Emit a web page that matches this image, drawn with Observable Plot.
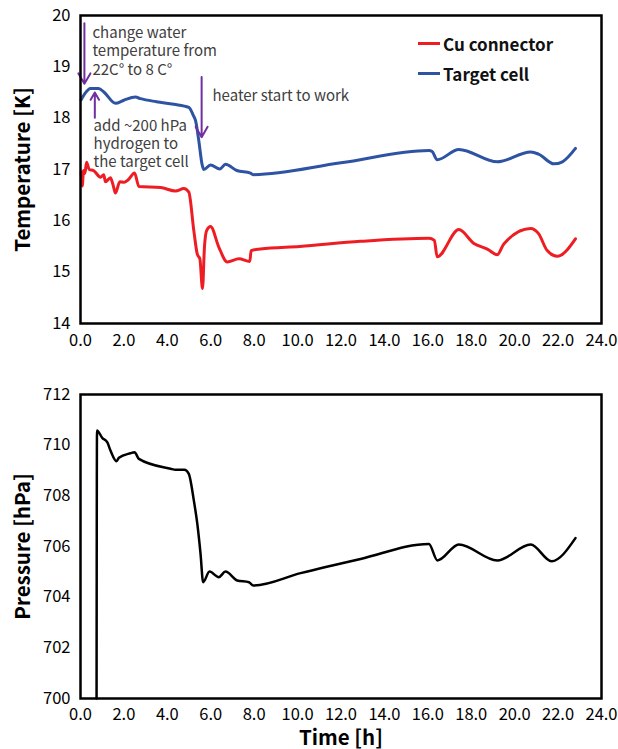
<!DOCTYPE html>
<html>
<head>
<meta charset="utf-8">
<script src="https://cdn.jsdelivr.net/npm/d3@7"></script>
<script src="https://cdn.jsdelivr.net/npm/@observablehq/plot@0.6"></script>
<style>
  body { margin: 0; background: white; }
  #wrap { position: relative; width: 618px; }
  #wrap svg { display: block; }
  [aria-label="y-axis label"] text, [aria-label="x-axis label"] text { font-weight: bold; font-size: 20.5px; }
  .leg { position: absolute; font-family: "Noto Sans CJK SC", sans-serif; font-size: 17px; font-weight: 600; color: #111; display: flex; align-items: center; }
  .leg span.sw { display: inline-block; width: 22px; height: 3px; margin-right: 3px; }
</style>
</head>
<body>
<div id="wrap"></div>
<script>
// ---- data ----
const cuTime = [0.03,0.08,0.14,0.2,0.28,0.4,0.6,0.92,1.07,1.15,1.38,1.5,1.61,1.81,2.0,2.2,2.49,2.69,3.69,4.38,4.76,4.99,5.22,5.38,5.5,5.62,5.71,5.81,5.99,6.37,6.76,7.3,7.8,7.86,8.29,10.1,12.9,16.05,16.3,16.43,17.43,18.12,18.74,19.2,19.5,20.74,21.1,21.5,21.96,22.8];
const cuTemp = [16.95,16.68,16.98,16.92,17.14,17.0,16.98,16.85,16.9,16.76,16.84,16.7,16.54,16.76,16.75,16.8,16.93,16.67,16.65,16.58,16.63,16.56,15.81,15.35,15.26,14.68,15.49,15.81,15.89,15.49,15.2,15.26,15.21,15.42,15.45,15.5,15.6,15.66,15.62,15.3,15.83,15.56,15.45,15.34,15.55,15.85,15.75,15.42,15.31,15.65];
const cellTime = [0.03,0.2,0.46,0.83,1.1,1.61,2.0,2.53,2.76,3.5,4.3,4.99,5.2,5.3,5.45,5.6,5.68,5.99,6.42,6.68,7.2,7.83,7.95,12.0,16.05,16.2,16.43,17.43,19.2,20.74,21.1,21.81,22.2,22.8];
const cellTemp = [18.36,18.48,18.58,18.58,18.5,18.29,18.35,18.41,18.38,18.32,18.27,18.21,18.05,17.95,17.56,17.1,17.0,17.09,17.01,17.1,16.98,16.93,16.9,17.13,17.37,17.35,17.19,17.39,17.15,17.34,17.3,17.11,17.15,17.41];
const pTime = [0.74,0.76,1.0,1.23,1.38,1.66,1.77,2.3,2.49,2.69,4.15,4.38,4.79,4.99,5.22,5.38,5.53,5.65,5.94,6.37,6.68,7.22,7.76,7.96,10.14,12.9,16.05,16.44,17.43,19.2,20.74,21.7,22.8];
const pressure = [700,710.58,710.29,710.12,709.79,709.37,709.5,709.68,709.72,709.46,709.07,709.03,709.03,708.87,707.82,706.9,705.71,704.59,705.01,704.79,705.01,704.66,704.59,704.46,704.95,705.51,706.1,705.45,706.08,705.45,706.08,705.42,706.33];
const seriesNames = ["Cu connector", "Target cell"];
const xTicks = [0,2,4,6,8,10,12,14,16,18,20,22,24];
const tempTicks = [14,15,16,17,18,19,20];
const pTicks = [700,702,704,706,708,710,712];
// annotations (time [h], temperature [K])
const arrowT = [0.18, 0.66, 5.58];
const arrowFrom = [19.85, 18.01, 18.8];
const arrowTo = [18.67, 18.5, 17.63];
const noteT = [0.55, 0.6, 6.08];
const noteY = [19.32, 17.51, 18.44];
const noteText = ["change water\ntemperature from\n22C° to 8 C°", "add ~200 hPa\nhydrogen to\nthe target cell", "heater start to work"];

// ---- build ----
const font = "'Noto Sans CJK SC', 'Noto Sans', sans-serif";
const red = "#ee1d23", blue = "#2e53a3", purple = "#7030a0";
const cu = cuTime.map((t, i) => ({t, v: cuTemp[i]}));
const cell = cellTime.map((t, i) => ({t, v: cellTemp[i]}));
const pr = pTime.map((t, i) => ({t, v: pressure[i]}));
const arrows = arrowT.map((t, i) => ({t, a: arrowFrom[i], b: arrowTo[i]}));
const notes = noteT.map((t, i) => ({t, y: noteY[i], s: noteText[i]}));
const fmt = d3.format(".1f");
const intFmt = d3.format("d");

const tempChart = Plot.plot({
  width: 618, height: 355,
  marginLeft: 80, marginRight: 17, marginTop: 15, marginBottom: 32,
  style: {fontFamily: font, fontSize: "16.5px", color: "#000", background: "white"},
  x: {domain: [0, 24]},
  y: {domain: [14, 20]},
  marks: [
    Plot.axisX({ticks: xTicks, tickFormat: fmt, tickSize: 0, tickPadding: 11, label: null}),
    Plot.axisY({ticks: tempTicks, tickFormat: intFmt, tickSize: 0, tickPadding: 10, label: "Temperature [K]", labelAnchor: "center", labelArrow: "none", labelOffset: 65}),
    Plot.line(cu, {x: "t", y: "v", stroke: red, strokeWidth: 3, curve: "monotone-x"}),
    Plot.line(cell, {x: "t", y: "v", stroke: blue, strokeWidth: 3, curve: "monotone-x"}),
    Plot.arrow(arrows, {x1: "t", y1: "a", x2: "t", y2: "b", stroke: purple, strokeWidth: 2, headLength: 9, bend: 0}),
    Plot.text(notes, {x: "t", y: "y", text: "s", textAnchor: "start", lineAnchor: "middle", lineHeight: 1.22, fontSize: 15, fill: "#404040"}),
    Plot.frame({stroke: "black", strokeWidth: 2.5})
  ]
});

const pressChart = Plot.plot({
  width: 618, height: 394,
  marginLeft: 80, marginRight: 17, marginTop: 39, marginBottom: 51,
  style: {fontFamily: font, fontSize: "16.5px", color: "#000", background: "white"},
  x: {domain: [0, 24]},
  y: {domain: [700, 712]},
  marks: [
    Plot.axisX({ticks: xTicks, tickFormat: fmt, tickSize: 0, tickPadding: 10, label: "Time [h]", labelAnchor: "center", labelArrow: "none", labelOffset: 46}),
    Plot.axisY({ticks: pTicks, tickFormat: intFmt, tickSize: 0, tickPadding: 10, label: "Pressure [hPa]", labelAnchor: "center", labelArrow: "none", labelOffset: 65}),
    Plot.line(pr, {x: "t", y: "v", stroke: "black", strokeWidth: 2.5, curve: "monotone-x"}),
    Plot.frame({stroke: "black", strokeWidth: 2.5})
  ]
});

const wrap = document.getElementById("wrap");
wrap.append(tempChart, pressChart);
const colors = [red, blue];
const legTop = [31, 61];
seriesNames.forEach((n, i) => {
  const d = document.createElement("div");
  d.className = "leg";
  d.style.left = "418px";
  d.style.top = legTop[i] + "px";
  d.innerHTML = `<span class="sw" style="background:${colors[i]}"></span>${n}`;
  wrap.append(d);
});
</script>
</body>
</html>
